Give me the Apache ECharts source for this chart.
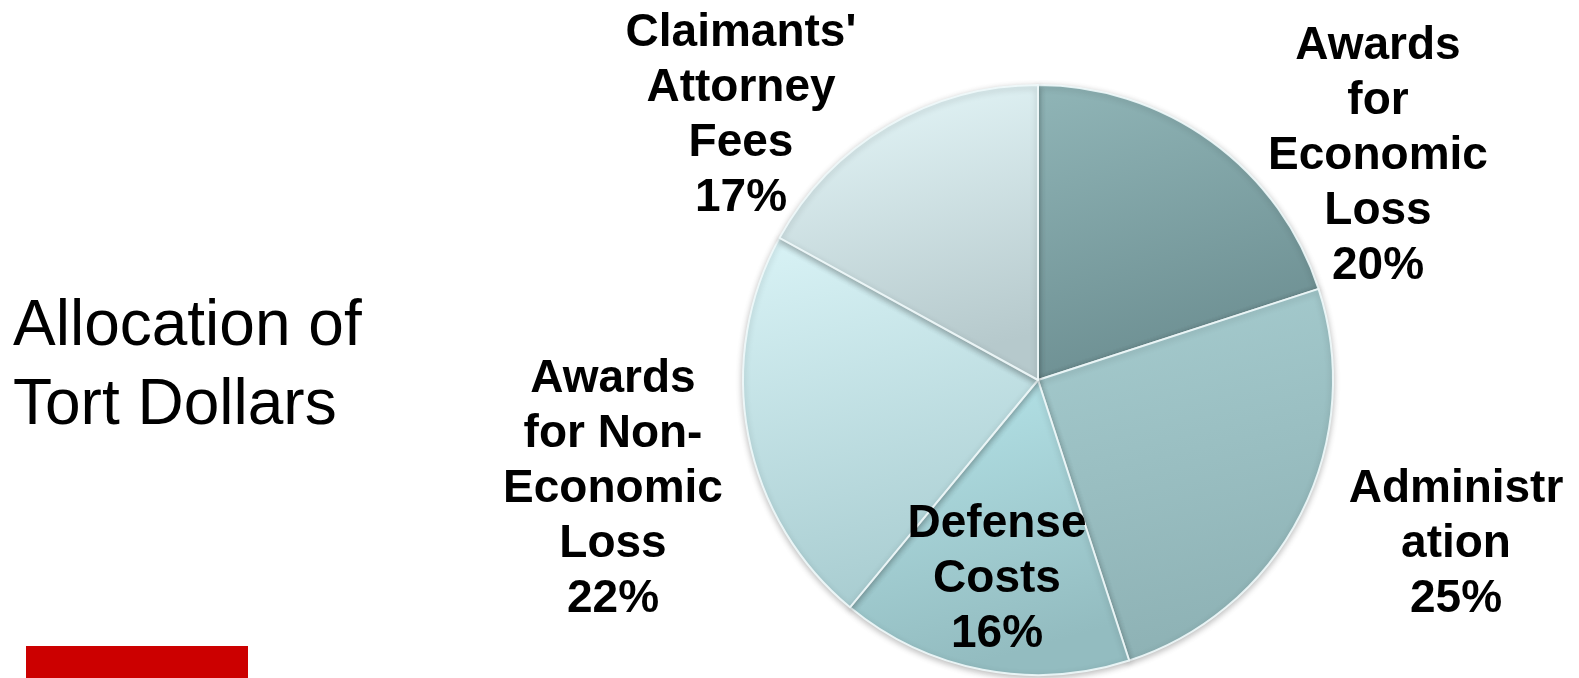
<!DOCTYPE html>
<html>
<head>
<meta charset="utf-8">
<title>Allocation of Tort Dollars</title>
<script src="https://cdn.jsdelivr.net/npm/echarts@6/dist/echarts.min.js"></script>
<style>
  html, body { margin: 0; padding: 0; background: #ffffff; }
  #chart { width: 1579px; height: 678px; }
</style>
</head>
<body>
<div id="chart"></div>
<script>
// Slice names (with the line breaks used in the labels) and their shares, clockwise from 12 o'clock
const categories = [
  'Awards\nfor\nEconomic\nLoss',
  'Administr\nation',
  'Defense\nCosts',
  'Awards\nfor Non-\nEconomic\nLoss',
  "Claimants'\nAttorney\nFees"
];
const shares = [20, 25, 16, 22, 17];

// Gradient stops per slice: lighter outer tone, darker inner tone
const sliceTones = [
  ['#90b5b7', '#6d8f92'],
  ['#a6cccf', '#8eb2b5'],
  ['#b6e5ea', '#93bcc0'],
  ['#d9f3f6', '#a9cdd1'],
  ['#e6f8fa', '#b6c9cc']
];
// Label block centres (x, y) for each slice
const labelSpots = [
  [1378, 156],
  [1456, 544],
  [997, 579],
  [613, 489],
  [741, 116]
];

const chart = echarts.init(document.getElementById('chart'), null, { renderer: 'canvas' });

const font = "'Liberation Sans', Arial, Helvetica, sans-serif";

chart.setOption({
  backgroundColor: '#ffffff',
  animation: false,
  title: {
    text: 'Allocation of\nTort Dollars',
    left: 13,
    top: 288,
    padding: 0,
    textStyle: {
      fontFamily: font,
      fontSize: 64,
      fontWeight: 'normal',
      lineHeight: 79,
      color: '#000000'
    }
  },
  graphic: [{
    type: 'rect',
    left: 26,
    top: 646,
    shape: { width: 222, height: 32 },
    style: { fill: '#cc0000' }
  }],
  series: [{
    type: 'pie',
    center: [1038, 380],
    radius: [0, 295],
    startAngle: 90,
    clockwise: true,
    avoidLabelOverlap: false,
    data: categories.map((name, i) => ({
      name: name,
      value: shares[i],
      itemStyle: {
        color: {
          type: 'linear', x: 0, y: 0, x2: 0.3, y2: 1,
          colorStops: [
            { offset: 0, color: sliceTones[i][0] },
            { offset: 1, color: sliceTones[i][1] }
          ]
        }
      }
    })),
    itemStyle: {
      borderColor: 'rgba(240, 250, 251, 0.9)',
      borderWidth: 2,
      shadowBlur: 6,
      shadowColor: 'rgba(0, 0, 0, 0.25)',
      shadowOffsetY: 2
    },
    label: {
      show: true,
      position: 'outside',
      formatter: '{b}\n{d}%',
      fontFamily: font,
      fontSize: 46,
      fontWeight: 'bold',
      lineHeight: 55,
      color: '#000000',
      align: 'center'
    },
    labelLine: { show: false },
    labelLayout: function (params) {
      const p = labelSpots[params.dataIndex];
      return { x: p[0], y: p[1], align: 'center', verticalAlign: 'middle' };
    },
    emphasis: { disabled: true }
  }]
});
</script>
</body>
</html>
